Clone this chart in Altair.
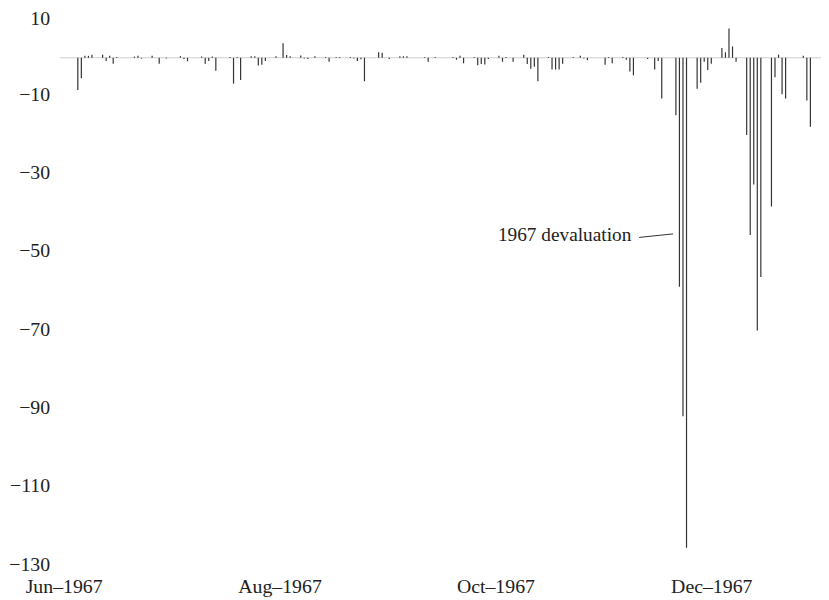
import altair as alt
import pandas as pd

# Daily values (weekdays), Jun-Dec 1967
dates = [
    "1967-06-05", "1967-06-06", "1967-06-07", "1967-06-08", "1967-06-09",
    "1967-06-12", "1967-06-13", "1967-06-14", "1967-06-15", "1967-06-16",
    "1967-06-21", "1967-06-22", "1967-06-23", "1967-06-26", "1967-06-28", "1967-06-30",
    "1967-07-04", "1967-07-05", "1967-07-06", "1967-07-10", "1967-07-11", "1967-07-12",
    "1967-07-13", "1967-07-14", "1967-07-18", "1967-07-19", "1967-07-20", "1967-07-21",
    "1967-07-24", "1967-07-25", "1967-07-26", "1967-07-27", "1967-07-28", "1967-07-31",
    "1967-08-02", "1967-08-03", "1967-08-04", "1967-08-07", "1967-08-08", "1967-08-09",
    "1967-08-11", "1967-08-14", "1967-08-15", "1967-08-17", "1967-08-18", "1967-08-21",
    "1967-08-22", "1967-08-23", "1967-08-24", "1967-08-25", "1967-08-29", "1967-08-30",
    "1967-09-01", "1967-09-04", "1967-09-05", "1967-09-06", "1967-09-11", "1967-09-12",
    "1967-09-14", "1967-09-19", "1967-09-20", "1967-09-21", "1967-09-22", "1967-09-25",
    "1967-09-26", "1967-09-27", "1967-09-28", "1967-09-29",
    "1967-10-02", "1967-10-03", "1967-10-04", "1967-10-06", "1967-10-09", "1967-10-10",
    "1967-10-11", "1967-10-12", "1967-10-13", "1967-10-16", "1967-10-17", "1967-10-18",
    "1967-10-19", "1967-10-20", "1967-10-23", "1967-10-25", "1967-10-26", "1967-10-27",
    "1967-11-01", "1967-11-02", "1967-11-03", "1967-11-06", "1967-11-07", "1967-11-08",
    "1967-11-09", "1967-11-13", "1967-11-15", "1967-11-16", "1967-11-17", "1967-11-21",
    "1967-11-22", "1967-11-23", "1967-11-24", "1967-11-27", "1967-11-28", "1967-11-29",
    "1967-11-30",
    "1967-12-01", "1967-12-04", "1967-12-05", "1967-12-06", "1967-12-07", "1967-12-08",
    "1967-12-11", "1967-12-12", "1967-12-13", "1967-12-14", "1967-12-15", "1967-12-18",
    "1967-12-19", "1967-12-20", "1967-12-21", "1967-12-22", "1967-12-27", "1967-12-28",
    "1967-12-29",
]
values = [
    -8.2, -5.2, 0.5, 0.5, 0.8,
    0.8, -0.8, 0.5, -1.5, 0.2,
    0.3, 0.5, -0.2, 0.5, -1.5, -0.2,
    0.4, -0.3, -0.9, 0.3, -1.5, -0.8,
    0.3, -3.3, 0.2, -6.6, 0.2, -5.7,
    0.4, 0.4, -2.0, -1.8, -0.8, 0.4,
    3.7, 0.7, 0.4, 0.6, -0.2, -0.3,
    0.4, 0.2, -1.0, 0.2, 0.2, 0.2,
    -0.2, -0.8, -0.4, -6.0, 1.4, 1.3,
    -0.3, 0.4, 0.4, 0.4, 0.2, -1.0,
    0.2, 0.2, -0.5, 0.5, -1.4, 0.2,
    -1.9, -1.6, -1.7, -0.3,
    0.5, -1.0, 0.2, -1.0, 0.8, -1.6,
    -2.8, -2.3, -6.0, 0.2, -3.0, -3.0,
    -3.0, -1.5, 0.2, 0.5, -0.2, -0.6,
    -1.8, 0.2, -1.4, 0.2, -0.5, -3.5,
    -4.5, -0.3, -3.0, -0.8, -10.4, -14.7,
    -58.5, -91.6, -125.2, -7.9, -6.4, -1.0,
    -3.1,
    -1.5, 2.5, 1.4, 7.5, 2.9, -1.0,
    -19.7, -45.3, -32.4, -69.7, -56.0, -38.0,
    -5.0, 0.8, -9.3, -10.4, 0.5, -10.9,
    -17.6,
]

y_ticks = [10, -10, -30, -50, -70, -90, -110, -130]
x_tick_months = [6, 8, 10, 12]

annot_label = ["1967 devaluation"]
annot_text_date = ["1967-11-08T10:00:00Z"]
annot_text_value = [-45.4]
annot_line_start = ["1967-11-10T14:24:00Z"]
annot_line_end = ["1967-11-20T04:48:00Z"]
annot_line_y = [-45.9]
annot_line_y2 = [-45.0]

FONT = "Liberation Serif"

df = pd.DataFrame({"date": dates, "value": values})

x_scale = alt.Scale(
    type="utc",
    domain=[alt.DateTime(year=1967, month=5, date=31, utc=True),
            alt.DateTime(year=1968, month=1, date=1, utc=True)],
)
y_scale = alt.Scale(domain=[-130, 10], nice=False, zero=False)

x_axis = alt.Axis(
    values=[alt.DateTime(year=1967, month=m, date=1, utc=True) for m in x_tick_months],
    labelExpr="utcFormat(datum.value, '%b–%Y')",
    title=None, grid=False, domain=False, ticks=False,
    labelFont=FONT, labelFontSize=20, labelColor="#222", labelPadding=10,
)
y_axis = alt.Axis(
    values=y_ticks, title=None, grid=False, domain=False, ticks=False,
    labelFont=FONT, labelFontSize=20, labelColor="#222", labelPadding=10.6,
    labelOffset={"condition": {"test": "datum.value >= 10", "value": 0}, "value": -2.5},
)

baseline = alt.Chart(pd.DataFrame({"zero": [0]})).mark_rule(
    color="#cccccc", strokeWidth=1
).encode(y=alt.Y("zero:Q", scale=y_scale, axis=y_axis))

bars = alt.Chart(df).mark_rule(color="#333333", strokeWidth=1.2).encode(
    x=alt.X("date:T", scale=x_scale, axis=x_axis),
    y=alt.Y("value:Q", scale=y_scale, axis=y_axis),
    y2=alt.datum(0),
)

annot_df = pd.DataFrame({
    "label": annot_label, "date": annot_text_date, "value": annot_text_value,
    "x1": annot_line_start, "x2": annot_line_end,
    "y1": annot_line_y, "y2": annot_line_y2,
})

annot_text = alt.Chart(annot_df).mark_text(
    align="right", baseline="middle", font=FONT, fontSize=19.5, color="#222"
).encode(
    x=alt.X("date:T", scale=x_scale),
    y=alt.Y("value:Q", scale=y_scale),
    text="label:N",
)

annot_line = alt.Chart(annot_df).mark_rule(color="#333333", strokeWidth=1).encode(
    x=alt.X("x1:T", scale=x_scale),
    x2="x2:T",
    y=alt.Y("y1:Q", scale=y_scale),
    y2="y2:Q",
)

chart = alt.layer(baseline, bars, annot_line, annot_text).properties(
    width=768,
    height=553,
    padding={"left": 52.6, "top": 8, "right": 0, "bottom": 30},
    autosize=alt.AutoSizeParams(type="none"),
).configure_view(stroke=None)

chart.save("out.html", embed_options={"renderer": "svg", "actions": False})
